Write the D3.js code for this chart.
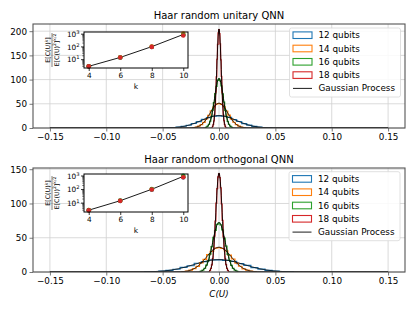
<!DOCTYPE html>
<html>
<head>
<meta charset="utf-8">
<script src="https://cdn.jsdelivr.net/npm/d3@7"></script>
<style>
  body { margin: 0; background: #fff; }
  text { font-family: "DejaVu Sans", sans-serif; fill: #000; }
</style>
</head>
<body>
<svg id="chart" width="415" height="311"></svg>
<script>
// ---- data ----
var series = ["12 qubits", "14 qubits", "16 qubits", "18 qubits"];
var colours = ["#1f77b4", "#ff7f0e", "#2ca02c", "#d62728"];
var xTicks = [-0.15, -0.10, -0.05, 0.00, 0.05, 0.10, 0.15];
var gpRange = [-0.15, 0.15];

// Gaussian process widths (sigma of C(U)) per qubit count
var unitarySigma = [0.0156, 0.0078, 0.0039, 0.00195];
var orthoSigma = [0.0221, 0.01105, 0.00552, 0.00276];

// histogram extents and counts (density)
var unitaryRange = [[-0.047, 0.047], [-0.0234, 0.0234], [-0.0117, 0.0117], [-0.00586, 0.00586]];
var orthoRange = [[-0.066, 0.066], [-0.033, 0.033], [-0.0166, 0.0166], [-0.0083, 0.0083]];

var unitary12 = [0.5, 0.9, 1.9, 3.6, 5.7, 9.3, 13.1, 17.9, 21.4, 24.7, 25.2, 24.3, 21.9, 17.5, 13.4, 9.0, 6.0, 3.3, 1.8, 1.0, 0.4];
var unitary14 = [0.9, 1.8, 3.8, 7.0, 11.5, 18.6, 26.3, 35.6, 43.0, 49.4, 50.6, 48.7, 43.5, 35.1, 26.8, 18.2, 11.9, 6.8, 3.7, 1.9, 0.8];
var unitary16 = [1.7, 3.8, 7.3, 14.0, 23.2, 37.0, 52.6, 71.2, 86.1, 98.5, 101.4, 97.5, 87.0, 70.3, 53.4, 36.5, 23.7, 13.6, 7.6, 3.7, 1.8];
var unitary18 = [3.4, 7.6, 14.8, 27.9, 46.5, 73.9, 105.5, 142.0, 172.6, 196.5, 203.2, 195.1, 173.8, 140.8, 106.6, 73.0, 47.3, 27.2, 15.1, 7.4, 3.5];

var ortho12 = [0.4, 0.7, 1.4, 2.5, 4.0, 6.7, 9.1, 12.8, 15.0, 17.6, 17.8, 17.1, 15.5, 12.2, 9.6, 6.3, 4.3, 2.3, 1.3, 0.6, 0.3];
var ortho14 = [0.6, 1.4, 2.6, 5.0, 8.1, 13.2, 18.5, 25.3, 30.2, 34.9, 35.6, 34.3, 30.9, 24.6, 19.0, 12.8, 8.4, 4.7, 2.7, 1.3, 0.7];
var ortho16 = [1.2, 2.7, 5.2, 9.9, 16.3, 26.2, 37.0, 50.4, 60.7, 69.6, 71.5, 68.8, 61.5, 49.5, 37.8, 25.7, 16.8, 9.6, 5.4, 2.6, 1.3];
var ortho18 = [2.4, 5.4, 10.4, 19.7, 32.8, 52.3, 74.3, 100.4, 121.7, 138.9, 143.2, 137.6, 122.9, 99.2, 75.4, 51.4, 33.4, 19.2, 10.7, 5.2, 2.5];

// inset: moment ratios vs k
var kValues = [4, 6, 8, 10];
var gaussMoments = [3, 15, 105, 945];
var unitaryMoments = [[2.98, 14.8, 98, 850], [3.02, 15.3, 108, 1100], [2.99, 14.9, 103, 900], [3.0, 14.9, 100, 780]];
var orthoMoments = [[2.95, 14.5, 98, 800], [3.0, 15.0, 104, 900], [3.02, 15.3, 108, 1050], [2.97, 14.7, 100, 820]];

var unitaryYTicks = [0, 50, 100, 150, 200];
var orthoYTicks = [0, 50, 100, 150];

// ---- drawing ----
var svg = d3.select("#chart");
var fmt = function (d) { return d3.format(".2f")(d).replace("-", "\u2212"); };

function drawPanel(p) {
    var g = svg.append("g");
    var x = d3.scaleLinear().domain([-0.165, 0.165]).range([p.left, p.right]);
    var peak = d3.max(p.sigma, function (s) { return 1 / (s * Math.sqrt(2 * Math.PI)); });
    var y = d3.scaleLinear().domain([0, peak * 1.05]).range([p.bottom, p.top]);

    var clipId = "clip" + p.id;
    svg.append("clipPath").attr("id", clipId).append("rect")
        .attr("x", p.left).attr("y", p.top)
        .attr("width", p.right - p.left).attr("height", p.bottom - p.top);

    // grid
    g.selectAll(".vg").data(xTicks).enter().append("line")
        .attr("x1", function (d) { return x(d); }).attr("x2", function (d) { return x(d); })
        .attr("y1", p.top).attr("y2", p.bottom)
        .attr("stroke", "#d0d0d0").attr("stroke-width", 0.8);
    g.selectAll(".hg").data(p.yTicks).enter().append("line")
        .attr("y1", function (d) { return y(d); }).attr("y2", function (d) { return y(d); })
        .attr("x1", p.left).attr("x2", p.right)
        .attr("stroke", "#d0d0d0").attr("stroke-width", 0.8);

    var plot = g.append("g").attr("clip-path", "url(#" + clipId + ")");

    // step histograms
    var line = d3.line().x(function (d) { return x(d[0]); }).y(function (d) { return y(d[1]); });
    p.counts.forEach(function (c, i) {
        var lo = p.ranges[i][0], hi = p.ranges[i][1];
        var w = (hi - lo) / c.length;
        var pts = [[lo, 0]];
        c.forEach(function (v, j) {
            pts.push([lo + j * w, v]);
            pts.push([lo + (j + 1) * w, v]);
        });
        pts.push([hi, 0]);
        plot.append("path").attr("d", line(pts))
            .attr("fill", "none").attr("stroke", colours[i]).attr("stroke-width", 1.2);
    });

    // Gaussian process curves
    var xs = d3.range(gpRange[0], gpRange[1] + 1e-9, 0.0004);
    p.sigma.forEach(function (s) {
        var pts = xs.map(function (v) {
            return [v, Math.exp(-v * v / (2 * s * s)) / (s * Math.sqrt(2 * Math.PI))];
        });
        plot.append("path").attr("d", line(pts))
            .attr("fill", "none").attr("stroke", "#000").attr("stroke-width", 0.9);
    });

    // axes
    var xa = g.append("g").attr("transform", "translate(0," + p.bottom + ")")
        .call(d3.axisBottom(x).tickValues(xTicks).tickFormat(fmt).tickSize(3.5).tickPadding(2.5));
    var ya = g.append("g").attr("transform", "translate(" + p.left + ",0)")
        .call(d3.axisLeft(y).tickValues(p.yTicks).tickFormat(d3.format("d")).tickSize(3.5).tickPadding(2.5));
    [xa, ya].forEach(function (a) {
        a.select(".domain").remove();
        a.selectAll("line").attr("stroke", "#555").attr("stroke-width", 0.8);
        a.selectAll("text").style("font-size", "8.8px").attr("fill", "#000");
    });
    g.append("rect").attr("x", p.left).attr("y", p.top)
        .attr("width", p.right - p.left).attr("height", p.bottom - p.top)
        .attr("fill", "none").attr("stroke", "#555").attr("stroke-width", 1.1);

    g.append("text").attr("x", (p.left + p.right) / 2).attr("y", p.titleY)
        .attr("text-anchor", "middle").style("font-size", "10px").text(p.title);

    // legend
    var lg = g.append("g").attr("transform", "translate(" + p.legX + "," + p.legY + ")");
    lg.append("rect").attr("width", 111).attr("height", 69).attr("rx", 2)
        .attr("fill", "#fff").attr("fill-opacity", 0.85).attr("stroke", "#d8d8d8").attr("stroke-width", 0.8);
    var labels = series.concat(["Gaussian Process"]);
    labels.forEach(function (name, i) {
        var cy = 7.2 + i * 13.3;
        if (i < 4) {
            lg.append("rect").attr("x", 3.5).attr("y", cy - 3.3).attr("width", 19).attr("height", 6.6)
                .attr("fill", "none").attr("stroke", colours[i]).attr("stroke-width", 1.1);
        } else {
            lg.append("line").attr("x1", 3.5).attr("x2", 22.5).attr("y1", cy).attr("y2", cy)
                .attr("stroke", "#000").attr("stroke-width", 0.9);
        }
        lg.append("text").attr("x", 29).attr("y", cy).attr("dy", "0.35em")
            .style("font-size", "8.8px").text(name);
    });

    drawInset(p);
}

function drawInset(p) {
    var b = p.inset;
    var g = svg.append("g");
    var allVals = gaussMoments.concat(d3.merge(p.moments));
    var lo = Math.log10(d3.min(allVals)), hi = Math.log10(d3.max(allVals));
    var pad = (hi - lo) * 0.05;
    var x = d3.scaleLinear().domain([3.7, 10.3]).range([b.left, b.right]);
    var y = d3.scaleLog().domain([Math.pow(10, lo - pad), Math.pow(10, hi + pad)]).range([b.bottom, b.top]);

    g.append("rect").attr("x", b.left).attr("y", b.top)
        .attr("width", b.right - b.left).attr("height", b.bottom - b.top).attr("fill", "#fff");

    var line = d3.line().x(function (d, i) { return x(kValues[i]); }).y(function (d) { return y(d); });
    g.append("path").attr("d", line(gaussMoments)).attr("fill", "none")
        .attr("stroke", "#000").attr("stroke-width", 0.9);

    p.moments.forEach(function (m, si) {
        g.selectAll(".pt" + si).data(m).enter().append("circle")
            .attr("cx", function (d, i) { return x(kValues[i]); })
            .attr("cy", function (d) { return y(d); })
            .attr("r", 2.3).attr("fill", colours[si]);
    });

    var xa = g.append("g").attr("transform", "translate(0," + b.bottom + ")")
        .call(d3.axisBottom(x).tickValues(kValues).tickFormat(d3.format("d")).tickSize(3).tickPadding(2));
    xa.select(".domain").remove();
    xa.selectAll("line").attr("stroke", "#000").attr("stroke-width", 0.8);
    xa.selectAll("text").style("font-size", "7.3px");

    // log y ticks
    var dom = y.domain();
    var minor = [];
    for (var e = 0; e <= 3; e++) {
        for (var m = 2; m <= 9; m++) {
            var v = m * Math.pow(10, e);
            if (v >= dom[0] && v <= dom[1]) minor.push(v);
        }
    }
    g.selectAll(".mn").data(minor).enter().append("line")
        .attr("x1", b.left - 1.8).attr("x2", b.left)
        .attr("y1", function (d) { return y(d); }).attr("y2", function (d) { return y(d); })
        .attr("stroke", "#000").attr("stroke-width", 0.5);
    var major = [1, 2, 3];
    g.selectAll(".mj").data(major).enter().append("line")
        .attr("x1", b.left - 3).attr("x2", b.left)
        .attr("y1", function (d) { return y(Math.pow(10, d)); }).attr("y2", function (d) { return y(Math.pow(10, d)); })
        .attr("stroke", "#000").attr("stroke-width", 0.8);
    major.forEach(function (d) {
        var t = g.append("text").attr("x", b.left - 4.5).attr("y", y(Math.pow(10, d)) + 2.6)
            .attr("text-anchor", "end").style("font-size", "7.3px");
        t.append("tspan").text("10");
        t.append("tspan").attr("dy", -3).style("font-size", "5.2px").text(d);
    });

    g.append("rect").attr("x", b.left).attr("y", b.top)
        .attr("width", b.right - b.left).attr("height", b.bottom - b.top)
        .attr("fill", "none").attr("stroke", "#000").attr("stroke-width", 1);

    g.append("text").attr("x", (b.left + b.right) / 2).attr("y", b.bottom + 21)
        .attr("text-anchor", "middle").style("font-size", "7.5px").text("k");

    // y label: E[C(U)^k] / E[C(U)^2]^(k/2)
    var fy = (b.top + b.bottom) / 2;
    var fr = g.append("g").attr("transform", "translate(" + 52 + "," + fy + ") rotate(-90)");
    var num = fr.append("text").attr("x", 0).attr("y", -2).attr("text-anchor", "middle")
        .style("font-size", "6.3px");
    num.append("tspan").text("E[C(U)");
    num.append("tspan").attr("dy", -2.2).style("font-size", "4.5px").text("k");
    num.append("tspan").attr("dy", 2.2).text("]");
    fr.append("line").attr("x1", -17).attr("x2", 17).attr("y1", 0).attr("y2", 0)
        .attr("stroke", "#000").attr("stroke-width", 0.5);
    var den = fr.append("text").attr("x", 0).attr("y", 6.6).attr("text-anchor", "middle")
        .style("font-size", "6.3px");
    den.append("tspan").text("E[C(U)");
    den.append("tspan").attr("dy", -2.2).style("font-size", "4.5px").text("2");
    den.append("tspan").attr("dy", 2.2).text("]");
    den.append("tspan").attr("dy", -2.2).style("font-size", "4.5px").text("k/2");
}

drawPanel({
    id: "top", title: "Haar random unitary QNN", titleY: 19,
    left: 33, right: 405, top: 24, bottom: 128,
    yTicks: unitaryYTicks, sigma: unitarySigma, ranges: unitaryRange,
    counts: [unitary12, unitary14, unitary16, unitary18],
    moments: unitaryMoments,
    legX: 289.5, legY: 28,
    inset: { left: 84, right: 188, top: 32, bottom: 68 }
});

drawPanel({
    id: "bot", title: "Haar random orthogonal QNN", titleY: 163,
    left: 33, right: 405, top: 168, bottom: 272,
    yTicks: orthoYTicks, sigma: orthoSigma, ranges: orthoRange,
    counts: [ortho12, ortho14, ortho16, ortho18],
    moments: orthoMoments,
    legX: 289, legY: 171.7,
    inset: { left: 84, right: 188, top: 174, bottom: 212 }
});

svg.append("text").attr("x", 219).attr("y", 297).attr("text-anchor", "middle")
    .style("font-size", "8.8px").style("font-style", "italic").text("C(U)");
</script>
</body>
</html>
